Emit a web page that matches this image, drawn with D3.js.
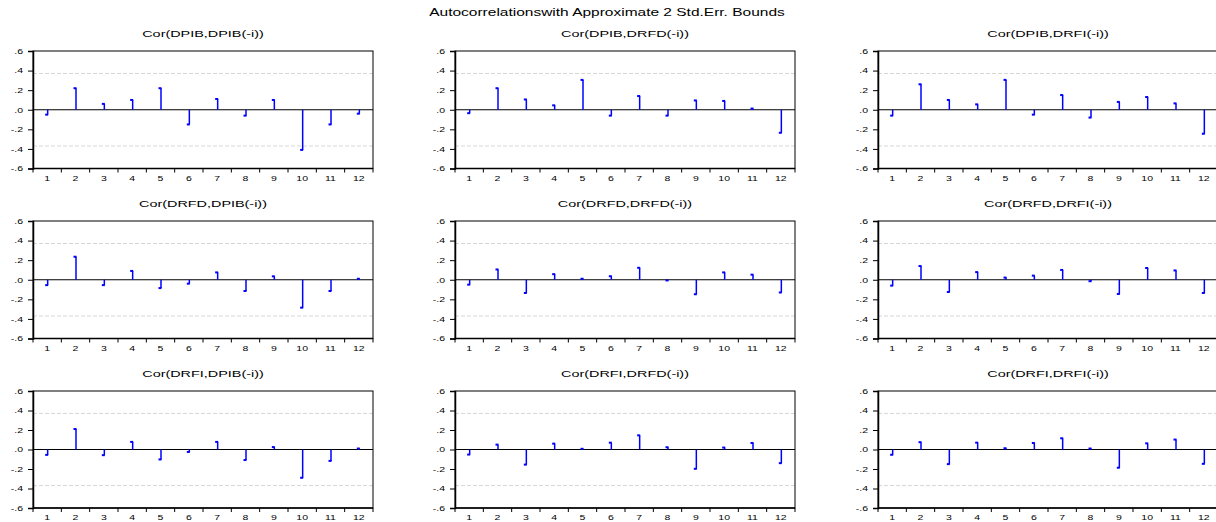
<!DOCTYPE html>
<html><head><meta charset="utf-8">
<script src="https://cdn.jsdelivr.net/npm/d3@7"></script>
<style>body{margin:0;background:#fff}svg{display:block}text{font-family:"Liberation Sans",Arial,sans-serif}</style>
</head><body>
<script>
const lags = [1,2,3,4,5,6,7,8,9,10,11,12];
const yTicks = [0.6,0.4,0.2,0,-0.2,-0.4,-0.6];
const yTickLabels = [".6",".4",".2",".0","-.2","-.4","-.6"];
const bound = 0.37;
const titles = [
 "Cor(DPIB,DPIB(-i))","Cor(DPIB,DRFD(-i))","Cor(DPIB,DRFI(-i))",
 "Cor(DRFD,DPIB(-i))","Cor(DRFD,DRFD(-i))","Cor(DRFD,DRFI(-i))",
 "Cor(DRFI,DPIB(-i))","Cor(DRFI,DRFD(-i))","Cor(DRFI,DRFI(-i))"];
const dpib_dpib = [-0.05,0.22,0.06,0.10,0.22,-0.15,0.11,-0.06,0.10,-0.41,-0.15,-0.04];
const dpib_drfd = [-0.035,0.22,0.105,0.045,0.305,-0.06,0.14,-0.06,0.095,0.09,0.012,-0.235];
const dpib_drfi = [-0.06,0.26,0.10,0.055,0.305,-0.05,0.15,-0.08,0.08,0.13,0.065,-0.245];
const drfd_dpib = [-0.055,0.235,-0.055,0.09,-0.085,-0.04,0.075,-0.115,0.035,-0.285,-0.115,0.01];
const drfd_drfd = [-0.05,0.105,-0.135,0.057,0.01,0.036,0.122,-0.007,-0.148,0.075,0.052,-0.13];
const drfd_drfi = [-0.06,0.14,-0.125,0.078,0.022,0.042,0.10,-0.015,-0.145,0.12,0.095,-0.135];
const drfi_dpib = [-0.055,0.21,-0.058,0.078,-0.102,-0.025,0.078,-0.108,0.025,-0.29,-0.117,0.01];
const drfi_drfd = [-0.052,0.05,-0.155,0.06,0.007,0.07,0.145,0.023,-0.198,0.02,0.067,-0.14];
const drfi_drfi = [-0.054,0.075,-0.15,0.07,0.013,0.067,0.115,0.01,-0.187,0.063,0.102,-0.147];
const series = [dpib_dpib,dpib_drfd,dpib_drfi,drfd_dpib,drfd_drfd,drfd_drfi,drfi_dpib,drfi_drfd,drfi_drfi];

const W=1216,H=522;
const svg=d3.select("body").append("svg").attr("width",W).attr("height",H);
const FF="Liberation Sans, Arial, sans-serif";
svg.append("text").attr("transform","translate(607,16) scale(1.55,1)").attr("text-anchor","middle")
  .attr("font-size",10).attr("fill","#000").text("Autocorrelationswith Approximate 2 Std.Err. Bounds");

const colX=[33,455,878];
const rowY=[{top:51,bot:168.5},{top:221,bot:338.5},{top:391,bot:508}];
const pw=340;
const TS=1.4; // horizontal stretch of tick labels

series.forEach((vals,i)=>{
  const c=i%3,r=Math.floor(i/3);
  const x0=colX[c], x1=x0+pw, y0=rowY[r].top, y1=rowY[r].bot;
  const g=svg.append("g");
  const x=d3.scaleBand().domain(lags).range([x0,x1]);
  const y=d3.scaleLinear().domain([-0.6,0.6]).range([y1,y0]);
  g.append("text").attr("transform",`translate(${(x0+x1)/2},${y0-14}) scale(1.6,1)`).attr("text-anchor","middle")
    .attr("font-size",9).attr("fill","#000").text(titles[i]);
  // bounds
  [bound,-bound].forEach(b=>{
    g.append("line").attr("x1",x0).attr("x2",x1).attr("y1",y(b)).attr("y2",y(b))
      .attr("stroke","#d6d6d6").attr("stroke-width",1).attr("stroke-dasharray","4,2");
  });
  // frame
  g.append("rect").attr("x",x0).attr("y",y0).attr("width",pw).attr("height",y1-y0)
    .attr("fill","none").attr("stroke","#000").attr("stroke-width",1);
  // zero line
  g.append("line").attr("x1",x0).attr("x2",x1).attr("y1",y(0)).attr("y2",y(0))
    .attr("stroke","#000").attr("stroke-width",1);
  // y axis
  const ya=d3.axisLeft(y).tickValues(yTicks).tickSize(5).tickFormat((d,k)=>yTickLabels[k]);
  const yg=g.append("g").attr("transform",`translate(${x0},0)`).call(ya);
  yg.select(".domain").attr("stroke","#000").attr("stroke-width",1.5);
  yg.selectAll("text").attr("font-size",7.5).attr("font-family",FF)
    .attr("x",-10/TS).attr("transform",`scale(${TS},1)`);
  // x axis: ticks at band boundaries
  const xa=d3.axisBottom(x).tickSize(0).tickPadding(7);
  const xg=g.append("g").attr("transform",`translate(0,${y1})`).call(xa);
  xg.select(".domain").remove();
  xg.selectAll("text").attr("font-size",7.5).attr("font-family",FF).attr("transform",`scale(${TS},1)`);
  g.append("line").attr("x1",x0).attr("x2",x1).attr("y1",y1).attr("y2",y1).attr("stroke","#000").attr("stroke-width",1.5);
  lags.forEach(l=>{
    const xx=x(l);
    g.append("line").attr("x1",xx).attr("x2",xx).attr("y1",y1).attr("y2",y1+4).attr("stroke","#000");
  });
  g.append("line").attr("x1",x1).attr("x2",x1).attr("y1",y1).attr("y2",y1+4).attr("stroke","#000");
  // bars
  const cx=l=>x(l)+x.bandwidth()/2+0.5;
  g.selectAll("line.bar").data(vals).enter().append("line").attr("class","bar")
    .attr("x1",(d,k)=>cx(lags[k])).attr("x2",(d,k)=>cx(lags[k]))
    .attr("y1",y(0)).attr("y2",d=>y(d)).attr("stroke","#0000ff").attr("stroke-width",1.5);
  g.selectAll("rect.cap").data(vals).enter().append("rect").attr("class","cap")
    .attr("x",(d,k)=>cx(lags[k])-2.5).attr("y",d=>y(d)-1).attr("width",3).attr("height",2)
    .attr("fill","#0000ff");
});
</script>
</body></html>
